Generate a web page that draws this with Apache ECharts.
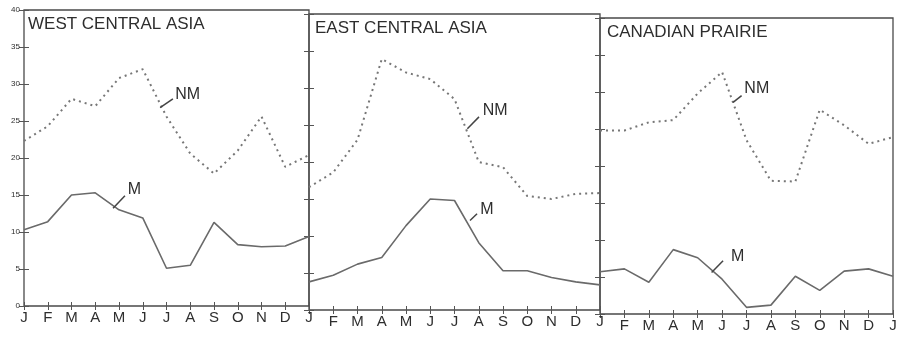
<!DOCTYPE html>
<html>
<head>
<meta charset="utf-8">
<script src="https://cdn.jsdelivr.net/npm/echarts@6/dist/echarts.min.js"></script>
<style>
html,body{margin:0;padding:0;background:#fff;}
#c{width:900px;height:340px;}
</style>
</head>
<body>
<div id="c"></div>
<script>
const months = ['J','F','M','A','M','J','J','A','S','O','N','D','J'];
const yTickLabels = ['0','5','10','15','20','25','30','35','40'];
const panelTitles = ['WEST CENTRAL ASIA','EAST CENTRAL ASIA','CANADIAN PRAIRIE'];
const westM  = [10.3,11.4,15.0,15.3,13.0,11.9,5.1,5.5,11.3,8.3,8.0,8.1,9.4];
const westNM = [22.3,24.3,28.0,27.0,30.8,32.0,25.6,20.6,17.9,21.0,25.6,18.8,20.4];
const eastM  = [3.8,4.7,6.2,7.1,11.4,15.0,14.8,9.1,5.3,5.3,4.4,3.8,3.4];
const eastNM = [16.6,18.6,23.0,33.9,32.1,31.2,28.5,20.0,19.3,15.4,15.0,15.7,15.8];
const canM   = [5.7,6.1,4.3,8.7,7.6,4.7,0.9,1.2,5.1,3.2,5.8,6.1,5.1];
const canNM  = [24.8,24.8,25.9,26.2,29.8,32.7,23.5,18.0,17.9,27.6,25.5,23.0,23.9];
// annotation anchors in data units: [leaderStart, leaderEnd, textAnchor]
const notesM  = [[[3.75,13.2],[4.25,14.9],[4.3,15.7]], [[6.64,12.1],[6.93,13.0],[7.0,13.6]], [[4.57,5.6],[5.04,7.2],[5.3,7.8]]];
const notesNM = [[[5.73,26.8],[6.27,28.0],[6.3,28.6]], [[6.53,24.5],[7.01,26.1],[7.1,27.0]], [[5.45,28.6],[5.8,29.5],[5.85,30.5]]];

const FONT = 'Liberation Sans, Arial, Helvetica, sans-serif';
const INK = '#2e2e2e';
const LINE = '#6a6a6a';

const panels = [
  {M: westM, NM: westNM},
  {M: eastM, NM: eastNM},
  {M: canM, NM: canNM}
];
const gridPos = [
  {left:24, top:10, width:285, height:296},
  {left:309, top:14, width:291, height:296},
  {left:600, top:18, width:293, height:296}
];
const titlePos = [[28,16],[315,20],[607,24]];

const pairs = arr => arr.map((v,i)=>[i,v]);

const grid = gridPos.map(g => Object.assign({show:true, borderColor:'#4a4a4a', borderWidth:1.3, backgroundColor:'transparent'}, g));
const xAxis = [], yAxis = [], series = [];
panels.forEach((p, g) => {
  xAxis.push({type:'value', gridIndex:g, position:'bottom', min:0, max:12, interval:1,
    axisLine:{show:false}, splitLine:{show:false},
    axisTick:{show:true, inside:true, length:4, lineStyle:{color:'#555'}},
    axisLabel:{show:true, showMinLabel: g===0, formatter: v => months[v], fontSize:15, color:INK, fontFamily:FONT, margin:4}});
  xAxis.push({type:'value', gridIndex:g, position:'top', min:0, max:12, interval:1,
    axisLine:{show:false}, splitLine:{show:false},
    axisTick:{show:true, inside:true, length:4, lineStyle:{color:'#555'}},
    axisLabel:{show:false}});
  yAxis.push({type:'value', gridIndex:g, position:'left', min:0, max:40, interval:5,
    axisLine:{show:false}, splitLine:{show:false},
    axisTick:{show:true, inside:true, length:5, lineStyle:{color:'#555'}},
    axisLabel:{show: g===0, formatter: v => yTickLabels[v/5], fontSize:8, color:INK, fontFamily:FONT, margin:4}});
  yAxis.push({type:'value', gridIndex:g, position:'right', min:0, max:40, interval:5,
    axisLine:{show:false}, splitLine:{show:false},
    axisTick:{show:true, inside:true, length:5, lineStyle:{color:'#555'}},
    axisLabel:{show:false}});
  const mk = (note, text) => ({
    markLine:{silent:true, symbol:'none', label:{show:false},
      lineStyle:{type:'solid', color:'#444', width:1.5},
      data:[[{coord:note[0]},{coord:note[1]}]]},
    markPoint:{silent:true, symbol:'rect', symbolSize:1, itemStyle:{color:'rgba(0,0,0,0)'},
      label:{show:true, position:'right', distance:1, formatter:text, fontSize:16, color:INK, fontFamily:FONT},
      data:[{coord:note[2]}]}
  });
  series.push(Object.assign({type:'line', name:'M', xAxisIndex:g*2, yAxisIndex:g*2, data:pairs(p.M),
    symbol:'none', lineStyle:{color:LINE, width:1.6}}, mk(notesM[g],'M')));
  series.push(Object.assign({type:'line', name:'NM', xAxisIndex:g*2, yAxisIndex:g*2, data:pairs(p.NM),
    symbol:'none', lineStyle:{color:'#777', width:2, type:[2,4]}}, mk(notesNM[g],'NM')));
});

const graphic = panelTitles.map((t,i)=>({type:'text', left:titlePos[i][0], top:titlePos[i][1],
  style:{text:t, font:'17px '+FONT, fill:INK}}));

const chart = echarts.init(document.getElementById('c'));
chart.setOption({animation:false, backgroundColor:'#fff', grid, xAxis, yAxis, series, graphic});
</script>
</body>
</html>
